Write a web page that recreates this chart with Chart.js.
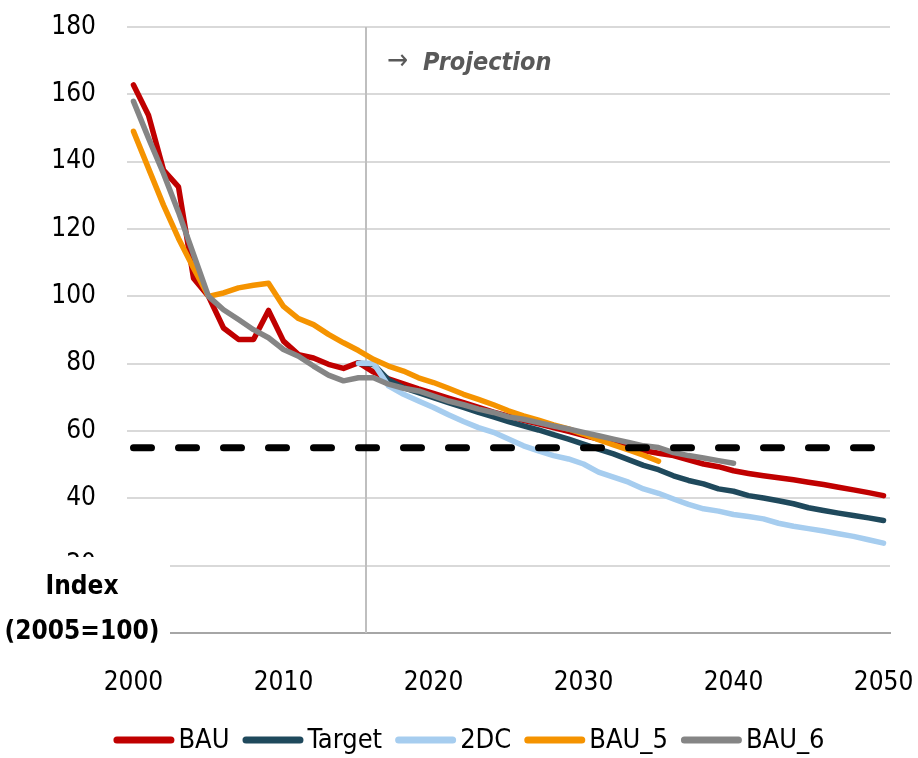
<!DOCTYPE html>
<html>
<head>
<meta charset="utf-8">
<script src="https://cdn.jsdelivr.net/npm/chart.js@4.4.1/dist/chart.umd.min.js"></script>
<style>
  html, body { margin: 0; padding: 0; background: #ffffff; }
  canvas { display: block; }
</style>
</head>
<body>
<canvas id="chart" width="918" height="758"></canvas>
<script>
const years = [
    2000, 2001, 2002, 2003, 2004, 2005, 2006, 2007, 2008, 2009,
    2010, 2011, 2012, 2013, 2014, 2015, 2016, 2017, 2018, 2019,
    2020, 2021, 2022, 2023, 2024, 2025, 2026, 2027, 2028, 2029,
    2030, 2031, 2032, 2033, 2034, 2035, 2036, 2037, 2038, 2039,
    2040, 2041, 2042, 2043, 2044, 2045, 2046, 2047, 2048, 2049,
    2050
];

const bau = [
    162.8, 153.8, 137.5, 132.5, 105.4, 100.0, 90.6, 87.2, 87.2, 95.8,
    86.7, 82.7, 81.7, 79.8, 78.6, 80.3, 77.5, 75.5, 74.0, 72.5,
    71.2, 69.8, 68.4, 67.0, 65.6, 64.4, 63.2, 62.1, 61.0, 59.9,
    58.7, 57.6, 56.3, 55.2, 54.2, 53.4, 52.7, 51.4, 50.2, 49.4,
    48.2, 47.4, 46.7, 46.1, 45.5, 44.8, 44.1, 43.3, 42.5, 41.7,
    40.8
];

const target = [
    null, null, null, null, null, null, null, null, null, null,
    null, null, null, null, null, 80.1, 79.8, 75.2, 72.9, 71.4,
    69.9, 68.4, 67.0, 65.5, 64.2, 62.8, 61.5, 60.3, 58.9, 57.6,
    56.1, 54.6, 53.2, 51.5, 49.8, 48.5, 46.7, 45.3, 44.3, 42.8,
    42.1, 40.8, 40.1, 39.3, 38.4, 37.2, 36.4, 35.6, 34.9, 34.2,
    33.4
];

const twoDC = [
    null, null, null, null, null, null, null, null, null, null,
    null, null, null, null, null, 80.1, 80.1, 73.4, 70.9, 68.9,
    67.0, 64.8, 62.8, 61.0, 59.6, 57.6, 55.6, 54.1, 52.7, 51.7,
    50.2, 47.8, 46.3, 44.8, 42.8, 41.5, 39.8, 38.2, 36.9, 36.2,
    35.2, 34.6, 33.9, 32.6, 31.7, 31.0, 30.3, 29.5, 28.7, 27.7,
    26.7
];

const bau5 = [
    149.0, 138.0, 127.1, 117.2, 108.4, 100.0, 101.0, 102.5, 103.3, 103.9,
    97.0, 93.4, 91.6, 88.7, 86.2, 83.9, 81.3, 79.3, 77.8, 75.8,
    74.4, 72.7, 70.9, 69.4, 67.8, 66.0, 64.5, 63.2, 61.8, 60.6,
    59.1, 57.4, 55.9, 54.4, 52.8, 51.0, null, null, null, null,
    null, null, null, null, null, null, null, null, null, null,
    null
];

const bau6 = [
    157.9, 147.0, 136.5, 125.0, 112.5, 100.0, 96.0, 93.1, 90.1, 87.7,
    84.2, 82.2, 79.3, 76.6, 74.9, 75.8, 75.8, 73.9, 72.7, 71.9,
    70.4, 68.9, 67.8, 66.5, 65.5, 64.2, 63.5, 62.5, 61.5, 60.6,
    59.6, 58.6, 57.6, 56.6, 55.6, 55.1, 53.6, 52.7, 52.0, 51.2,
    50.4, null, null, null, null, null, null, null, null, null,
    null
];

const goalYears = [2000, 2050];
const goalLevel = [55, 55];

const xTicks = [2000, 2010, 2020, 2030, 2040, 2050];
const projectionStart = 2015.5;

const FONT = '"DejaVu Sans Condensed", "DejaVu Sans", sans-serif';

function toPoints(values) {
    return years.map((yr, i) => ({ x: yr, y: values[i] }));
}

function line(label, values, color, order) {
    return {
        label: label,
        data: toPoints(values),
        borderColor: color,
        backgroundColor: color,
        borderWidth: 5.5,
        borderJoinStyle: "round",
        borderCapStyle: "round",
        pointRadius: 0,
        tension: 0,
        order: order
    };
}

// grey marker line for the projection period and its caption
const projectionPlugin = {
    id: "projection",
    beforeDatasetsDraw(chart) {
        const { ctx, chartArea, scales } = chart;
        const x = scales.x.getPixelForValue(projectionStart);
        ctx.save();
        ctx.strokeStyle = "#BFBFBF";
        ctx.lineWidth = 2;
        ctx.beginPath();
        ctx.moveTo(x, chartArea.top);
        ctx.lineTo(x, chartArea.bottom);
        ctx.stroke();
        ctx.fillStyle = "#595959";
        ctx.font = "28px " + FONT;
        ctx.textBaseline = "middle";
        ctx.fillText("\u2192", x + 21, 62);
        ctx.font = "italic bold 25px " + FONT;
        ctx.fillText("Projection", x + 57, 63);
        ctx.restore();
    }
};

// white box with the axis caption over the lower left corner
const captionPlugin = {
    id: "caption",
    afterDraw(chart) {
        const { ctx } = chart;
        ctx.save();
        ctx.fillStyle = "#ffffff";
        ctx.fillRect(0, 557, 170, 95);
        ctx.fillStyle = "#000000";
        ctx.font = "bold 26px " + FONT;
        ctx.textAlign = "center";
        ctx.textBaseline = "middle";
        ctx.fillText("Index", 82, 587);
        ctx.fillText("(2005=100)", 82, 632);
        ctx.restore();
    }
};

// legend drawn by hand: long rounded swatch right next to the text
const legendPlugin = {
    id: "bottomLegend",
    afterDraw(chart) {
        const { ctx } = chart;
        const items = chart.data.datasets.filter(d => !d.hideInLegend);
        const swatch = 61;
        const textGap = 4;
        const itemGap = 13;
        ctx.save();
        ctx.font = "27px " + FONT;
        ctx.textBaseline = "middle";
        let total = 0;
        items.forEach((d, i) => {
            total += swatch + textGap + ctx.measureText(d.label).width;
            if (i < items.length - 1) total += itemGap;
        });
        let x = 469 - total / 2;
        const y = 740;
        items.forEach(d => {
            ctx.strokeStyle = d.borderColor;
            ctx.lineWidth = 7;
            ctx.lineCap = "round";
            ctx.beginPath();
            ctx.moveTo(x + 3.5, y);
            ctx.lineTo(x + swatch - 3.5, y);
            ctx.stroke();
            x += swatch + textGap;
            ctx.fillStyle = "#000000";
            ctx.fillText(d.label, x, y + 1);
            x += ctx.measureText(d.label).width + itemGap;
        });
        ctx.restore();
    }
};

new Chart(
    document.getElementById("chart"),
    {
        type: "line",
        data: {
            datasets: [
                {
                    label: "Goal",
                    hideInLegend: true,
                    data: goalYears.map((yr, i) => ({ x: yr, y: goalLevel[i] })),
                    borderColor: "#000000",
                    borderWidth: 7,
                    borderDash: [18, 27],
                    borderCapStyle: "round",
                    pointRadius: 0,
                    order: 0
                },
                line("BAU", bau, "#C00000", 5),
                line("Target", target, "#1F495C", 4),
                line("2DC", twoDC, "#A6CDEF", 3),
                line("BAU_5", bau5, "#F59300", 2),
                line("BAU_6", bau6, "#858585", 1)
            ]
        },
        options: {
            responsive: false,
            animation: false,
            devicePixelRatio: 1,
            layout: {
                padding: { top: 27, right: 28, bottom: 55, left: 0 }
            },
            plugins: {
                legend: { display: false },
                tooltip: { enabled: false }
            },
            scales: {
                x: {
                    type: "linear",
                    min: 1999.567,
                    max: 2050.433,
                    afterBuildTicks: s => {
                        s.ticks = xTicks.map(v => ({ value: v }));
                    },
                    afterFit: s => {
                        s.height = 70;
                        s.paddingLeft = 0;
                        s.paddingRight = 0;
                    },
                    ticks: {
                        font: { family: FONT, size: 26 },
                        color: "#000000",
                        padding: 35,
                        maxRotation: 0,
                        autoSkip: false,
                        callback: v => String(v)
                    },
                    grid: { display: false, drawTicks: false },
                    border: { display: true, color: "#A6A6A6", width: 2 }
                },
                y: {
                    min: 0,
                    max: 180,
                    afterFit: s => {
                        s.width = 127;
                        s.paddingTop = 0;
                        s.paddingBottom = 0;
                    },
                    ticks: {
                        stepSize: 20,
                        font: { family: FONT, size: 26 },
                        color: "#000000",
                        padding: 31
                    },
                    grid: {
                        color: ctx => ctx.tick && ctx.tick.value === 0 ? "rgba(0,0,0,0)" : "#D9D9D9",
                        lineWidth: 2,
                        drawTicks: false
                    },
                    border: { display: false }
                }
            }
        },
        plugins: [projectionPlugin, captionPlugin, legendPlugin]
    }
);
</script>
</body>
</html>
